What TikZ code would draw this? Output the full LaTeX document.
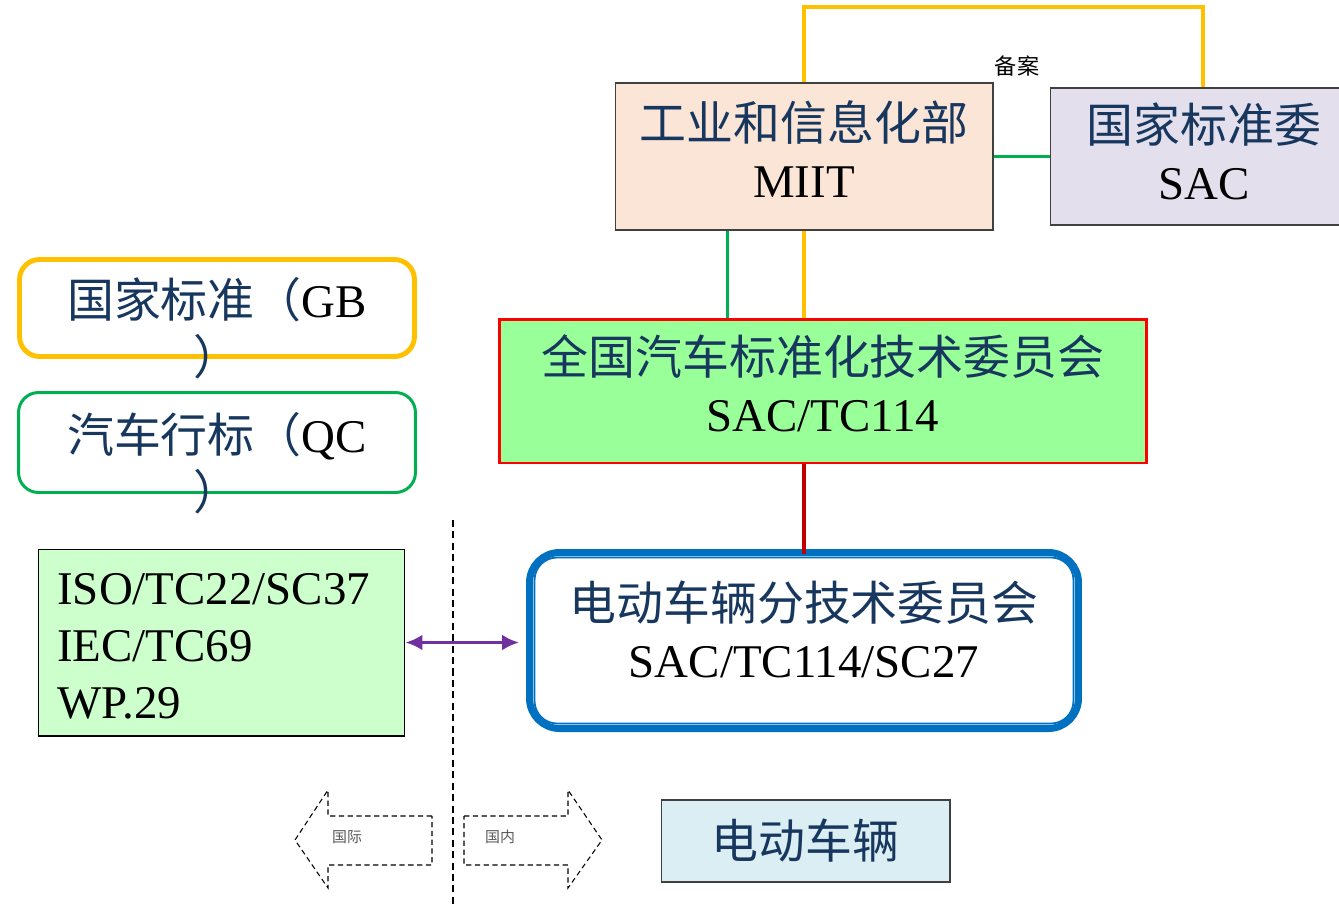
\documentclass[tikz,border=0pt]{standalone}
\usepackage{fontspec}
\setmainfont{Liberation Serif}
\newfontfamily\cjk{Noto Sans CJK SC}
\usetikzlibrary{calc,arrows.meta}

\definecolor{zhblue}{HTML}{17375E}
\definecolor{boxgray}{HTML}{404040}
\definecolor{miitfill}{HTML}{FBE5D6}
\definecolor{sacfill}{HTML}{E4DFEC}
\definecolor{tcfill}{HTML}{99FF99}
\definecolor{tcred}{HTML}{FF0000}
\definecolor{isofill}{HTML}{CCFFCC}
\definecolor{evfill}{HTML}{DAEEF3}
\definecolor{gbgold}{HTML}{FFC000}
\definecolor{qcgreen}{HTML}{00B050}
\definecolor{scblue}{HTML}{0070C0}
\definecolor{linkpurple}{HTML}{7030A0}
\definecolor{linkred}{HTML}{C00000}
\definecolor{taggray}{HTML}{595959}

\newcommand{\zh}[1]{{\cjk\color{zhblue}#1}}

\begin{document}
\begin{tikzpicture}[
    x=0.02cm, y=-0.02cm,
    txt/.style={font=\fontsize{26.7}{32.4}\selectfont, align=center},
    box/.style={draw=boxgray, line width=0.6pt, inner sep=0pt},
    roundbox/.style={draw, rounded corners=0.4cm, inner sep=0pt},
    goldline/.style={draw=gbgold, line width=2.8pt},
    greenline/.style={draw=qcgreen, line width=1.7pt},
    redline/.style={draw=linkred, line width=2.3pt},
    purpleline/.style={draw=linkpurple, line width=1.9pt},
    divline/.style={draw=black, line width=0.6pt, dash pattern=on 4pt off 2.5pt},
    dasharrow/.style={draw=black, line width=0.6pt, dash pattern=on 3pt off 2pt},
    tag/.style={font=\fontsize{8.5}{10}\selectfont, text=taggray, inner sep=0pt}
]
\useasboundingbox (0,0) rectangle (1339,904);

% upper part
\node[box, fill=miitfill, minimum width=7.56cm, minimum height=2.94cm] (miit) at (804,156.5) {};
\node[txt] (miittxt) at ([yshift=0.15cm]miit.center) {\zh{工业和信息化部}\\MIIT};
\node[box, fill=sacfill, minimum width=6.16cm, minimum height=2.74cm] (sac) at (1204,156.5) {};
\node[txt] (sactxt) at ([yshift=0.1cm]sac.center) {\zh{国家标准委}\\SAC};
\node[box, draw=tcred, line width=1.7pt, fill=tcfill, minimum width=12.96cm, minimum height=2.88cm] (tc) at (823,391) {};
\node[txt] (tctxt) at ([yshift=0.15cm]tc.center) {\zh{全国汽车标准化技术委员会}\\SAC/TC114};
\node[box, draw=scblue, line width=4pt, rounded corners=0.6cm, fill=white, minimum width=10.98cm, minimum height=3.52cm] (sc) at (804,640.5) {};
\draw[draw=scblue, line width=1pt, rounded corners=0.45cm] ($(sc.north west)+(8.5,8.5)$) rectangle ($(sc.south east)+(-8.5,-8.5)$);
\node[txt] (sctxt) at (804,629) {\zh{电动车辆分技术委员会}\\SAC/TC114/SC27};

% left column
\node[roundbox, draw=gbgold, line width=2.8pt, minimum width=7.9cm, minimum height=1.94cm] (gb) at (217,308) {};
\node[txt] (gbtxt) at (217,328.5) {\zh{国家标准（}GB\\\zh{）}};
\node[roundbox, draw=qcgreen, line width=1.7pt, minimum width=7.94cm, minimum height=2cm] (qc) at (217,442.5) {};
\node[txt] (qctxt) at (217,463.5) {\zh{汽车行标（}QC\\\zh{）}};
\node[box, draw=black, fill=isofill, minimum width=7.34cm, minimum height=3.74cm] (iso) at (221.5,642.5) {};
\node[txt, align=left, anchor=west, inner sep=0pt] (isotxt) at (57,646) {ISO/TC22/SC37\\IEC/TC69\\WP.29};
\node[box, txt, fill=evfill, minimum width=5.78cm, minimum height=1.64cm] (ev) at (805.5,841) {\zh{电动车辆}};

% links
\coordinate (top) at (1203,7);
\coordinate (gfoot) at (727,0);
\draw[goldline] (miit.north) |- (top) -- (top |- sac.north);
\node[font=\fontsize{12.6}{14}\selectfont, inner sep=0pt] (filing) at (1017,66) {\cjk 备案};
\draw[greenline] (miit.east) -- (sac.west);
\draw[greenline] (miit.south -| gfoot) -- (tc.north -| gfoot);
\draw[goldline] (miit.south) -- (miit.south |- tc.north);
\draw[redline] (sc.north |- tc.south) -- ([yshift=-0.1cm]sc.north);
\draw[purpleline, {Latex[length=0.34cm,width=0.32cm]}-{Latex[length=0.34cm,width=0.32cm]}, shorten >=0.14cm] (iso.east) -- (iso.east -| sc.west);

% domestic / international
\coordinate (divtop) at (453,520);
\coordinate (divbot) at (453,904);
\draw[divline] (divtop) -- (divbot);
\draw[dasharrow] (432,816) -- (328,816) -- (328,790) -- (295,840) -- (328,888) -- (328,865) -- (432,865) -- cycle;
\draw[dasharrow] (464,816) -- (568,816) -- (568,790) -- (602,840) -- (568,888) -- (568,865) -- (464,865) -- cycle;
\node[tag] (intl) at (347,837) {\cjk 国际};
\node[tag] (dom) at (500,837) {\cjk 国内};
\end{tikzpicture}
\end{document}
